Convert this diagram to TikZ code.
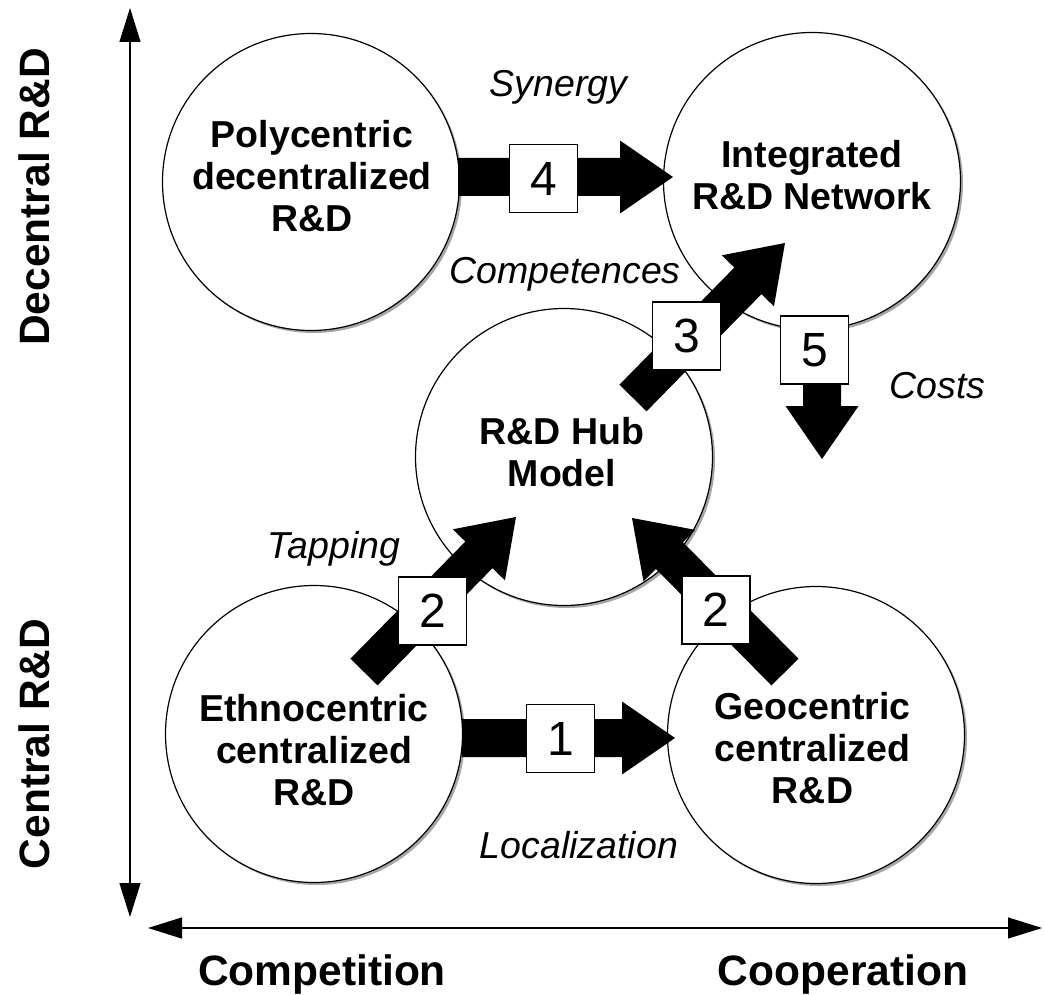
\documentclass[tikz,border=0pt]{standalone}
\usepackage{fontspec}
\setmainfont{Liberation Sans}
\usetikzlibrary{calc,arrows.meta,shadows}

% thick block arrow from tail #1 to tip #2
\newcommand\blockarrow[2]{%
  \path ($(#2)!53pt!(#1)$) coordinate (headbase);
  \fill[flow] ($(#1)!19pt!90:(#2)$) -- ($(headbase)!19pt!90:(#2)$)
    -- ($(headbase)!36.5pt!90:(#2)$) -- (#2)
    -- ($(headbase)!36.5pt!-90:(#2)$) -- ($(headbase)!19pt!-90:(#2)$)
    -- ($(#1)!19pt!-90:(#2)$) -- cycle;}

\begin{document}
\begin{tikzpicture}[x=1pt,y=-1pt,
  stage/.style={circle, draw, line width=1.2pt, fill=white, minimum size=297pt,
    inner sep=0pt, general shadow={fill=black!35, shadow xshift=2.5pt, shadow yshift=-2.5pt}},
  stagetext/.style={align=center, inner sep=0pt,
    font=\fontsize{37.5}{42}\selectfont\bfseries},
  numbox/.style={draw, line width=1.3pt, fill=white, minimum size=68pt, inner sep=0pt,
    font=\fontsize{48}{52}\selectfont},
  driver/.style={anchor=base, inner sep=0pt, font=\fontsize{37.5}{42}\selectfont\itshape},
  axislabel/.style={inner sep=0pt, font=\fontsize{42.5}{46}\selectfont\bfseries},
  axis/.style={line width=1.3pt,
    {Triangle[length=34pt,width=21pt]}-{Triangle[length=34pt,width=21pt]}},
  flow/.style={fill=black}
]
\useasboundingbox (0,0) rectangle (1044,995);

% axes
\coordinate (ytop) at (130,8);
\coordinate (ybot) at (130,917);
\coordinate (xleft) at (148,928);
\coordinate (xright) at (1042,928);
\draw[axis] (ybot) -- (ytop);
\draw[axis] (xleft) -- (xright);

\node[axislabel, rotate=90] (decentral) at (34,197) {Decentral R\&D};
\node[axislabel, rotate=90] (central) at (34,744) {Central R\&D};
\node[axislabel, anchor=base] (competition) at (322,985) {Competition};
\node[axislabel, anchor=base] (cooperation) at (843,985) {Cooperation};

% organisational forms
\node[stage] (poly) at (311,182) {};
\node[stage] (integ) at (812,181) {};
\node[stage] (hub) at (564,457) {};
\node[stage] (ethno) at (314,734) {};
\node[stage] (geo) at (816,735) {};

\node[stagetext] (polyT) at (312,176) {Polycentric\\decentralized\\R\&D};
\node[stagetext] (integT) at (812,175.5) {Integrated\\R\&D Network};
\node[stagetext] (hubT) at (562,452.5) {R\&D Hub\\Model};
\node[stagetext] (ethnoT) at (314,750) {Ethnocentric\\centralized\\R\&D};
\node[stagetext] (geoT) at (812.5,748.5) {Geocentric\\centralized\\R\&D};

% transitions
\coordinate (a1s) at (462,738);  \coordinate (a1e) at (675,738);
\coordinate (a2ls) at (364,672); \coordinate (a2le) at (516,517);
\coordinate (a2rs) at (785,672); \coordinate (a2re) at (632,518);
\coordinate (a3s) at (633,398);  \coordinate (a3e) at (785,243);
\coordinate (a4s) at (458,177);  \coordinate (a4e) at (673,177);
\coordinate (a5s) at (822,328);  \coordinate (a5e) at (822,459);

\blockarrow{a1s}{a1e}
\blockarrow{a2ls}{a2le}
\blockarrow{a2rs}{a2re}
\blockarrow{a3s}{a3e}
\blockarrow{a4s}{a4e}
\blockarrow{a5s}{a5e}

\node[numbox] (n1) at (560.5,738.5) {1};
\node[numbox] (n2l) at (432.5,611) {2};
\node[numbox] (n2r) at (716,610) {2};
\node[numbox] (n3) at (686.5,336) {3};
\node[numbox] (n4) at (543.5,178.5) {4};
\node[numbox] (n5) at (814.5,350) {5};

% drivers
\node[driver] (synergy) at (558.5,97) {Synergy};
\node[driver] (competences) at (565,283) {Competences};
\node[driver] (costs) at (937.5,398) {Costs};
\node[driver] (tapping) at (334,558) {Tapping};
\node[driver] (localization) at (579,858) {Localization};
\end{tikzpicture}
\end{document}
